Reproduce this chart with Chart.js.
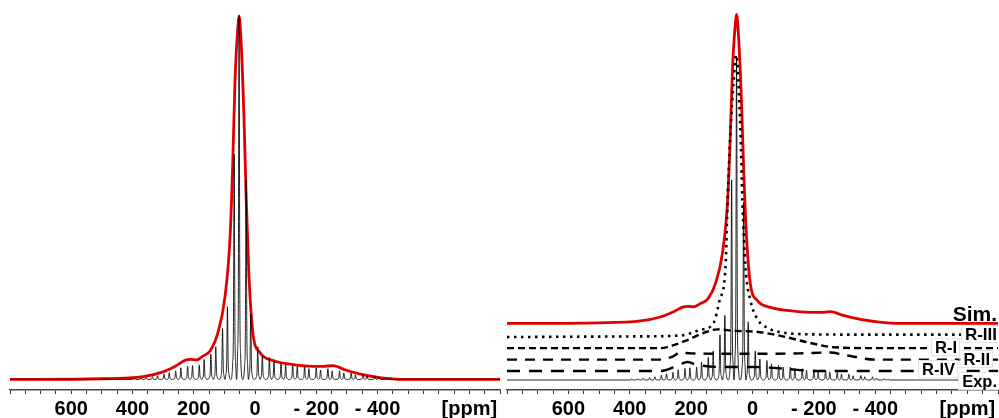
<!DOCTYPE html>
<html><head><meta charset="utf-8">
<script src="https://cdn.jsdelivr.net/npm/chart.js@4"></script>
<style>
html,body{margin:0;padding:0;background:#fff;}
#wrap{position:relative;width:999px;height:418px;overflow:hidden;}
.panel{position:absolute;top:0;height:418px;}
</style></head><body>
<div id="wrap">
<div class="panel" style="left:0;width:502px"><canvas id="left"></canvas></div>
<div class="panel" style="left:500px;width:499px"><canvas id="right"></canvas></div>
</div>
<script>
// axis
var tickPpm = [600, 400, 200, 0, -200, -400];
var tickText = ['600', '400', '200', '0', '- 200', '- 400'];
var unitPpm = -700;
var unitText = '[ppm]';

// simulated spectrum (red), % of max
var simPpm = [800, 500, 365, 300, 257, 225, 212, 190, 169, 147, 121, 98, 81, 72, 65, 55, 52, 46, 36, 29, 20, 7, -16, -59, -114, -189, -221, -254, -296, -352, -407, -482, -800];
var simInt = [0, 0.2, 0.8, 2.1, 3.8, 5.4, 5.5, 5.4, 6.5, 7.8, 12.9, 22.7, 39.8, 61.5, 82.8, 98, 100, 93.9, 72.2, 50.5, 29.1, 12.9, 7.4, 5.2, 4.2, 3.6, 3.6, 3.8, 2.6, 1.3, 0.5, 0, 0];

// experimental spinning sidebands (black), % of max - site A
var expAPpm = [394, 356, 318, 280, 242, 204, 166, 128, 90, 52, 14, -24, -62, -100, -138, -176, -214, -252, -290, -328, -366, -404, -442];
var expAInt = [0.3, 0.6, 1, 1.9, 3.2, 3.8, 5.5, 9, 20, 100, 18, 6.5, 5, 4, 3.5, 3, 2.6, 2.4, 1.8, 1.3, 1, 0.6, 0.3];
// site B
var expBPpm = [373, 335, 297, 259, 220, 182, 144, 106, 68, 29, -9, -47, -85, -123, -162, -200, -238, -276, -314, -353, -391, -429];
var expBInt = [0.4, 0.8, 1.5, 2.4, 3.6, 4, 7, 14, 62, 55, 9, 6, 4.6, 4, 3.5, 3.2, 3, 2.4, 1.8, 1.4, 1, 0.4];

// fitted components, % of Sim max
var r3Ppm = [800, 400, 235, 170, 127, 107, 88, 81, 72, 62, 53, 39, 33, 23, 7, -16, -50, -90, -180, -300, -800];
var r3Int = [0, 0.2, 0.5, 2.3, 4.5, 12, 22.7, 44.3, 66, 82.2, 91.3, 66, 44.3, 22.7, 12, 5.8, 2.9, 1.6, 0.9, 0.8, 0.8];
var r1Ppm = [800, 300, 257, 212, 160, 114, 60, -3, -82, -179, -264, -400, -800];
var r1Int = [0, 0, 1, 2.6, 4.9, 6.1, 5.6, 5.4, 4.2, 1.9, 0.3, 0, 0];
var r2Ppm = [800, 300, 260, 235, 200, 100, 0, -150, -254, -300, -400, -800];
var r2Int = [0, 0, 1, 2.3, 2, 1.9, 1.9, 2, 2.3, 1.5, 0, 0];
var r4Ppm = [800, 300, 250, 212, 180, 100, 0, -100, -200, -800];
var r4Int = [0, 0, 1.5, 2.9, 2, 1.3, 1.3, 0.8, 0, 0];

var compNames = ['Exp.', 'R-IV', 'R-II', 'R-I', 'R-III', 'Sim.'];
var compOffset = [0, 2.9, 6.6, 10.3, 13.9, 18.3];

function pts(xs, ys, k, off) {
  var out = [];
  for (var i = 0; i < xs.length; i++) out.push({x: xs[i], y: ys[i] * k + off});
  return out;
}

// narrow lines for each sideband of both sites
function sidebands(k, off) {
  var p = [];
  expAPpm.forEach(function(v, i) { p.push([v, expAInt[i]]); });
  expBPpm.forEach(function(v, i) { p.push([v, expBInt[i]]); });
  p.sort(function(a, b) { return a[0] - b[0]; });
  var out = [{x: -800, y: off}];
  for (var i = 0; i < p.length; i++) {
    var c = p[i][0], h = p[i][1] * k;
    var prev = i > 0 ? p[i - 1][0] : c - 19;
    out.push({x: (prev + c) / 2, y: off});
    out.push({x: c - 5, y: off + h * 0.07});
    out.push({x: c - 2.5, y: off + h * 0.22});
    out.push({x: c, y: off + h});
    out.push({x: c + 2.5, y: off + h * 0.22});
    out.push({x: c + 5, y: off + h * 0.07});
  }
  out.push({x: p[p.length - 1][0] + 10, y: off});
  out.push({x: 800, y: off});
  return out;
}

function xAxis() {
  return {
    type: 'linear', reverse: true, min: -800, max: 800,
    afterBuildTicks: function(s) {
      var t = [];
      for (var v = -800; v <= 800; v += 50) t.push({value: v});
      s.ticks = t;
    },
    afterFit: function(s) { s.height = 28; },
    ticks: {
      autoSkip: false, maxRotation: 0, padding: 3, color: '#000',
      font: {family: 'Liberation Sans, Arial', size: 20, weight: 'bold'},
      callback: function(v) {
        if (v === unitPpm) return unitText;
        var i = tickPpm.indexOf(v);
        return i < 0 ? '' : tickText[i];
      }
    },
    grid: {drawOnChartArea: false, tickLength: 4, color: '#333', lineWidth: 1},
    border: {display: true, color: '#444', width: 1.5}
  };
}

var lineOpts = {pointRadius: 0, fill: false, cubicInterpolationMode: 'monotone'};

function ds(data, color, width, dash) {
  var d = Object.assign({data: data, borderColor: color, borderWidth: width}, lineOpts);
  if (dash) d.borderDash = dash;
  return d;
}

var labelPlugin = {
  id: 'labels',
  afterDatasetsDraw: function(chart) {
    if (chart.canvas.id !== 'right') return;
    var ctx = chart.ctx, y = chart.scales.y;
    // right edge (page px), font size, vertical shift from baseline
    var pos = [
      {x: 997, s: 16.5, dy: 1},    // Exp.
      {x: 955, s: 16.5, dy: -2},   // R-IV
      {x: 990, s: 16.5, dy: -0.5}, // R-II
      {x: 957, s: 16.5, dy: -1},   // R-I
      {x: 997, s: 17, dy: -3},     // R-III
      {x: 997, s: 21, dy: -9.5}    // Sim.
    ];
    ctx.save();
    ctx.textAlign = 'right';
    ctx.textBaseline = 'middle';
    for (var i = 0; i < compNames.length; i++) {
      var px = pos[i].x - 500, py = y.getPixelForValue(compOffset[i]) + pos[i].dy;
      ctx.font = 'bold ' + pos[i].s + 'px "Liberation Sans", Arial';
      var w = ctx.measureText(compNames[i]).width;
      if (i < 5) {
        ctx.fillStyle = '#fff';
        ctx.fillRect(px - w - 3, py - 8, w + 5, 16);
        ctx.strokeStyle = '#e4e4e4';
        ctx.lineWidth = 1;
        ctx.strokeRect(px - w - 3.5, py - 8.5, w + 6, 17);
      }
      ctx.fillStyle = '#000';
      ctx.fillText(compNames[i], px, py + 1);
    }
    ctx.restore();
  }
};

var common = {
  responsive: true, maintainAspectRatio: false, animation: false,
  plugins: {legend: {display: false}, tooltip: {enabled: false}},
  elements: {line: {borderCapStyle: 'butt'}}
};

new Chart(document.getElementById('left'), {
  type: 'line',
  data: {datasets: [
    ds(sidebands(1, 0), 'rgba(0,0,0,0.85)', 1),
    ds(pts(simPpm, simInt, 1, 0), '#e00000', 2.8)
  ]},
  options: Object.assign({}, common, {
    layout: {padding: {left: 10, right: 2, top: 0, bottom: 0}},
    scales: {x: xAxis(), y: {display: false, min: -2.9, max: 104.4}}
  })
});

new Chart(document.getElementById('right'), {
  type: 'line',
  data: {datasets: [
    ds(sidebands(1.045, compOffset[0]), 'rgba(0,0,0,0.85)', 1),
    ds(pts(r4Ppm, r4Int, 1, compOffset[1]), '#000', 2.4, [13, 9]),
    ds(pts(r2Ppm, r2Int, 1, compOffset[2]), '#000', 2.4, [10, 8]),
    ds(pts(r1Ppm, r1Int, 1, compOffset[3]), '#000', 2.4, [7, 4]),
    ds(pts(r3Ppm, r3Int, 1, compOffset[4]), '#000', 2.6, [2.5, 4.5]),
    ds(pts(simPpm, simInt, 1, compOffset[5]), '#e00000', 2.8)
  ]},
  options: Object.assign({}, common, {
    layout: {padding: {left: 7, right: 1, top: 0, bottom: 0}},
    scales: {x: xAxis(), y: {display: false, min: -3.24, max: 123}}
  }),
  plugins: [labelPlugin]
});
</script>
</body></html>
